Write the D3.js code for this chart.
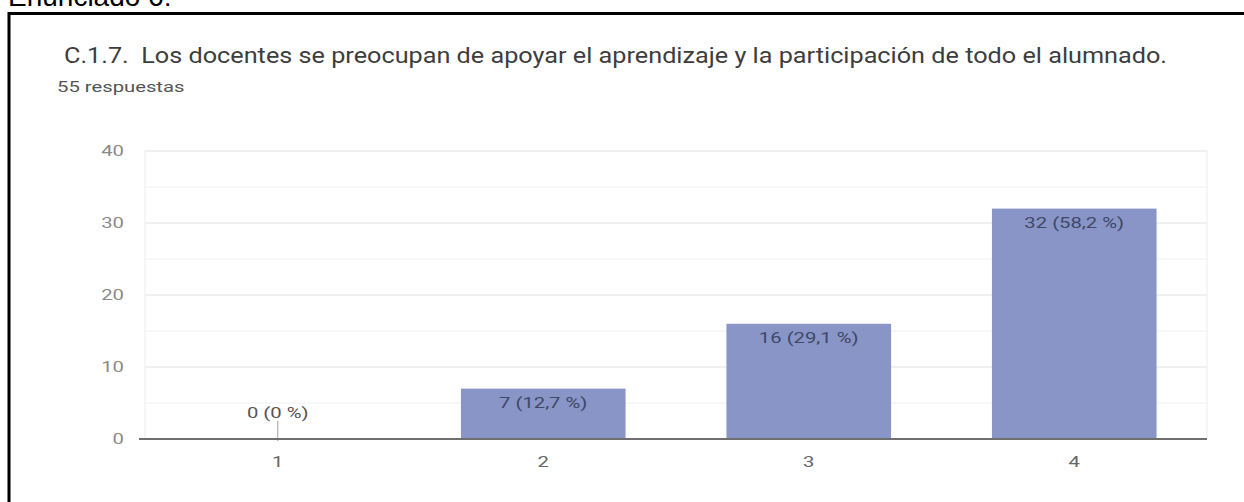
<!DOCTYPE html>
<html>
<head>
<meta charset="utf-8">
<script src="https://cdn.jsdelivr.net/npm/d3@7"></script>
<style>
  html, body { margin: 0; padding: 0; background: #ffffff; overflow: hidden; }
  svg { display: block; }
  text { white-space: pre; }
</style>
</head>
<body>
<svg id="chart" width="1244" height="502"></svg>
<script>
// ---- data ----
const headingText = "Enunciado 6:";
const titleText = "C.1.7.  Los docentes se preocupan de apoyar el aprendizaje y la participación de todo el alumnado.";
const subtitleText = "55 respuestas";
const categories = ["1", "2", "3", "4"];
const counts = [0, 7, 16, 32];
const barLabels = ["0 (0 %)", "7 (12,7 %)", "16 (29,1 %)", "32 (58,2 %)"];
const yTicks = [0, 10, 20, 30, 40];
const yMinorTicks = [5, 15, 25, 35];

// ---- layout ----
const svg = d3.select("#chart");
const plot = { left: 145, right: 1207, top: 151, bottom: 439 };
const STRETCH = 1.35; // the screenshot's small text is horizontally widened

function stretch(sel, factor) {
  sel.each(function () {
    const w = this.getComputedTextLength();
    d3.select(this)
      .attr("textLength", w * factor)
      .attr("lengthAdjust", "spacingAndGlyphs");
  });
}

const x = d3.scaleBand()
  .domain(categories)
  .range([plot.left, plot.right])
  .paddingInner(0.38)
  .paddingOuter(0.19);

const y = d3.scaleLinear()
  .domain([0, 40])
  .range([plot.bottom, plot.top]);

// heading (cut off at top, as in the source)
svg.append("text")
  .attr("x", 8)
  .attr("y", 6)
  .attr("font-family", "Liberation Sans, Arial, sans-serif")
  .attr("font-size", 28)
  .attr("fill", "#000")
  .text(headingText);

// frame
svg.append("rect")
  .attr("x", 9)
  .attr("y", 13.5)
  .attr("width", 1400)
  .attr("height", 700)
  .attr("fill", "none")
  .attr("stroke", "#000")
  .attr("stroke-width", 3);

// title
svg.append("text")
  .attr("x", 64)
  .attr("y", 63)
  .attr("font-family", "Roboto, sans-serif")
  .attr("font-size", 22)
  .attr("fill", "#3d3d3d")
  .attr("textLength", 1103)
  .attr("lengthAdjust", "spacingAndGlyphs")
  .text(titleText);

// subtitle
svg.append("text")
  .attr("x", 57)
  .attr("y", 92)
  .attr("font-family", "Roboto, sans-serif")
  .attr("font-size", 15)
  .attr("fill", "#555")
  .text(subtitleText)
  .call(stretch, STRETCH);

// minor gridlines
svg.append("g")
  .selectAll("line")
  .data(yMinorTicks)
  .join("line")
  .attr("x1", plot.left).attr("x2", plot.right)
  .attr("y1", d => y(d)).attr("y2", d => y(d))
  .attr("stroke", "#f6f6f6")
  .attr("stroke-width", 1.5);

// major gridlines
svg.append("g")
  .selectAll("line")
  .data(yTicks.filter(d => d !== 0))
  .join("line")
  .attr("x1", plot.left).attr("x2", plot.right)
  .attr("y1", d => y(d)).attr("y2", d => y(d))
  .attr("stroke", "#ebebeb")
  .attr("stroke-width", 1.5);

// faint vertical borders
[plot.left, plot.right].forEach(px => {
  svg.append("line")
    .attr("x1", px).attr("x2", px)
    .attr("y1", y(40)).attr("y2", y(0))
    .attr("stroke", "#f2f2f2")
    .attr("stroke-width", 1.5);
});

// y axis
const yAxis = svg.append("g")
  .attr("transform", `translate(${plot.left},0)`)
  .call(d3.axisLeft(y).tickValues(yTicks).tickSize(0).tickPadding(21));
yAxis.select(".domain").remove();
yAxis.selectAll("text")
  .attr("font-family", "Roboto, sans-serif")
  .attr("font-size", 15)
  .attr("fill", "#8a8a8a")
  .call(stretch, STRETCH);

// bars
svg.append("g")
  .selectAll("rect")
  .data(counts)
  .join("rect")
  .attr("x", (d, i) => x(categories[i]))
  .attr("width", x.bandwidth())
  .attr("y", d => y(d))
  .attr("height", d => y(0) - y(d))
  .attr("fill", "#8895c6");

// zero-value marker
counts.forEach((d, i) => {
  if (d === 0) {
    const cx = x(categories[i]) + x.bandwidth() / 2;
    svg.append("line")
      .attr("x1", cx).attr("x2", cx)
      .attr("y1", y(0) - 18).attr("y2", y(0) + 2)
      .attr("stroke", "#a0a0a0")
      .attr("stroke-width", 1);
  }
});

// baseline
svg.append("line")
  .attr("x1", plot.left - 6).attr("x2", plot.right)
  .attr("y1", y(0)).attr("y2", y(0))
  .attr("stroke", "#6f6f6f")
  .attr("stroke-width", 2);

// x axis
const xAxis = svg.append("g")
  .attr("transform", `translate(0,${plot.bottom})`)
  .call(d3.axisBottom(x).tickSize(0).tickPadding(17));
xAxis.select(".domain").remove();
xAxis.selectAll("text")
  .attr("font-family", "Roboto, sans-serif")
  .attr("font-size", 15)
  .attr("fill", "#666")
  .call(stretch, STRETCH);

// bar labels
svg.append("g")
  .selectAll("text")
  .data(counts)
  .join("text")
  .attr("x", (d, i) => x(categories[i]) + x.bandwidth() / 2)
  .attr("y", d => d === 0 ? y(0) - 21 : y(d) + 19)
  .attr("text-anchor", "middle")
  .attr("font-family", "Roboto, sans-serif")
  .attr("font-size", 15)
  .attr("fill", d => d === 0 ? "#555" : "#3f4868")
  .text((d, i) => barLabels[i])
  .call(stretch, STRETCH);
</script>
</body>
</html>
